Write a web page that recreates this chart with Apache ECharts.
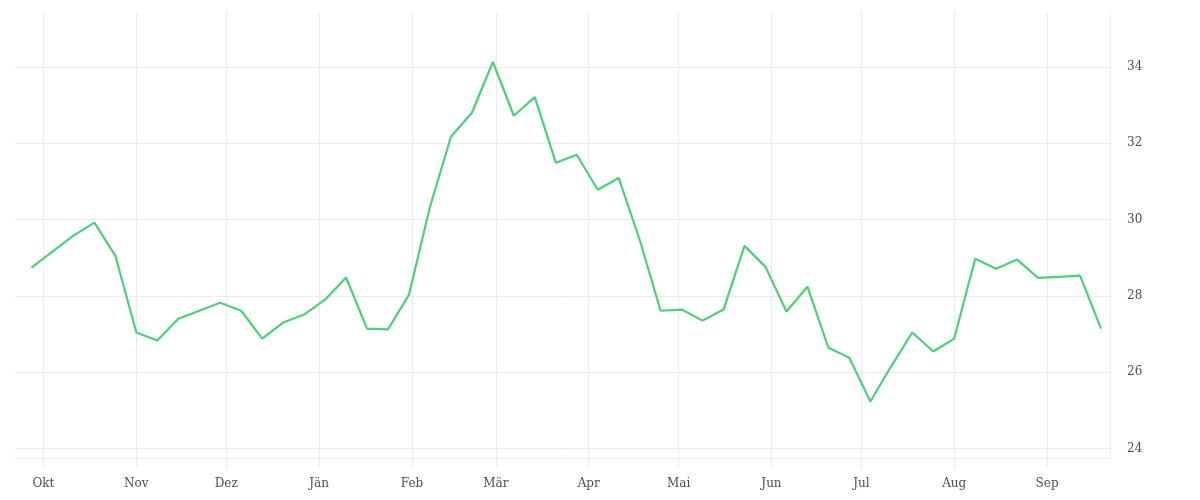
<!DOCTYPE html>
<html>
<head>
<meta charset="utf-8">
<script src="https://cdn.jsdelivr.net/npm/echarts@6/dist/echarts.min.js"></script>
<style>
html,body{margin:0;padding:0;background:#fff;}
#chart{width:1200px;height:500px;}
</style>
</head>
<body>
<div id="chart"></div>
<script>
// Weekly observations, first week starting 2018-09-27
const startDate = [2018, 8, 27];
const values = [28.74, 29.16, 29.58, 29.92, 29.05, 27.04, 26.83, 27.40, 27.61, 27.82,
                27.61, 26.88, 27.30, 27.51, 27.90, 28.48, 27.14, 27.12, 28.03, 30.33,
                32.17, 32.80, 34.13, 32.72, 33.21, 31.49, 31.70, 30.78, 31.09, 29.47,
                27.61, 27.64, 27.35, 27.64, 29.31, 28.76, 27.59, 28.24, 26.64, 26.38,
                25.23, 26.16, 27.04, 26.54, 26.88, 28.97, 28.71, 28.95, 28.47, 28.50,
                28.53, 27.14];
const monthNames = ['Jän','Feb','Mär','Apr','Mai','Jun','Jul','Aug','Sep','Okt','Nov','Dez'];
const monthTicks = [[2018,9],[2018,10],[2018,11],[2019,0],[2019,1],[2019,2],[2019,3],[2019,4],[2019,5],[2019,6],[2019,7],[2019,8]];
const yTicks = [24, 26, 28, 30, 32, 34];

const dates = values.map((v, i) => new Date(startDate[0], startDate[1], startDate[2] + 7 * i).getTime());
const seriesData = values.map((v, i) => [dates[i], v]);
const monthTickValues = monthTicks.map(m => new Date(m[0], m[1], 1).getTime());

const gridColor = '#ebebeb';
const textColor = '#4d4d4d';
const fontFamily = '"DejaVu Serif", "Liberation Serif", serif';

const chart = echarts.init(document.getElementById('chart'));
chart.setOption({
  animation: false,
  backgroundColor: '#ffffff',
  grid: { left: 15, right: 90, top: 12, bottom: 42, containLabel: false },
  xAxis: {
    type: 'value',
    min: new Date(2018, 8, 21, 12).getTime(),
    max: new Date(2019, 8, 22).getTime(),
    axisLine: { show: true, lineStyle: { color: gridColor, width: 1 } },
    axisTick: { show: true, customValues: monthTickValues, length: 10, lineStyle: { color: gridColor, width: 1 } },
    splitLine: { show: true, lineStyle: { color: gridColor, width: 1 } },
    axisLabel: {
      customValues: monthTickValues,
      formatter: function (val) { return monthNames[new Date(val).getMonth()]; },
      color: textColor, fontFamily: fontFamily, fontSize: 12, margin: 20
    }
  },
  yAxis: {
    type: 'value',
    position: 'right',
    min: 23.75,
    max: 35.44,
    axisLine: { show: true, lineStyle: { color: gridColor, width: 1 } },
    axisTick: { show: false, customValues: yTicks },
    splitLine: { show: true, lineStyle: { color: gridColor, width: 1 } },
    axisLabel: {
      customValues: yTicks,
      color: textColor, fontFamily: fontFamily, fontSize: 12, margin: 17,
      padding: [4, 0, 0, 0]
    }
  },
  series: [{
    type: 'line',
    data: seriesData,
    showSymbol: false,
    symbol: 'none',
    lineStyle: { color: '#4cd07a', width: 2.2 },
    itemStyle: { color: '#4cd07a' }
  }]
});
</script>
</body>
</html>
